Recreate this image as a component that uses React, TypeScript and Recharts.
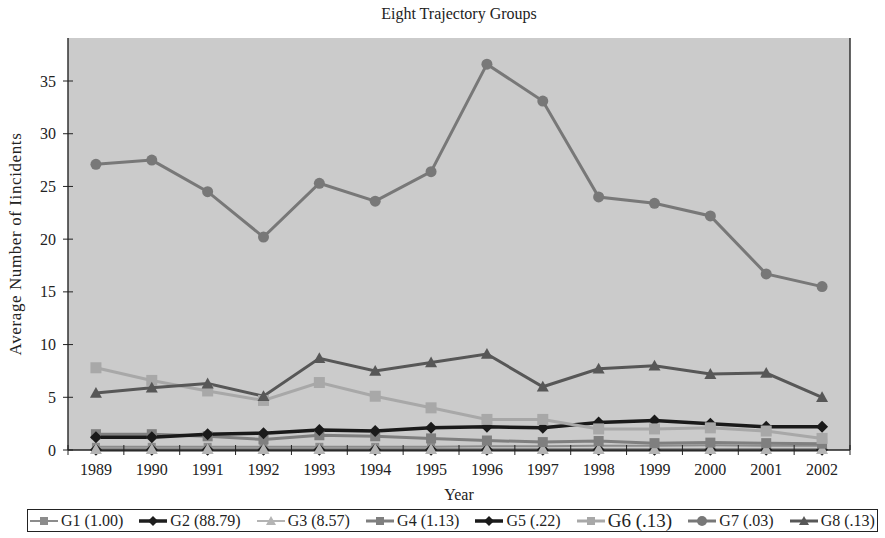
import React from 'react';
import { LineChart, Line, XAxis, YAxis, CartesianGrid, ReferenceLine } from 'recharts';

const years = ['1989','1990','1991','1992','1993','1994','1995','1996','1997','1998','1999','2000','2001','2002'];
const g1 = [0.3,0.3,0.3,0.3,0.3,0.3,0.3,0.35,0.35,0.4,0.4,0.45,0.4,0.4];
const g2 = [0.02,0.02,0.02,0.02,0.02,0.02,0.02,0.02,0.02,0.02,0.02,0.02,0.02,0.02];
const g3 = [0.08,0.08,0.08,0.08,0.08,0.08,0.08,0.08,0.08,0.08,0.08,0.08,0.08,0.08];
const g4 = [1.5,1.5,1.3,1.0,1.4,1.3,1.1,0.9,0.75,0.85,0.65,0.7,0.65,0.6];
const g5 = [1.2,1.2,1.5,1.6,1.9,1.8,2.1,2.2,2.1,2.6,2.8,2.5,2.2,2.2];
const g6 = [7.8,6.6,5.6,4.7,6.4,5.1,4.0,2.9,2.9,2.0,2.0,2.1,1.8,1.1];
const g7 = [27.1,27.5,24.5,20.2,25.3,23.6,26.4,36.6,33.1,24.0,23.4,22.2,16.7,15.5];
const g8 = [5.4,5.9,6.3,5.1,8.7,7.5,8.3,9.1,6.0,7.7,8.0,7.2,7.3,5.0];

const leftTicks = [0,5,10,15,20,25,30,35];
const rightTicks = [0,5,10,15,20,25,30,35,40,45];
const legendLabels = ['G1 (1.00)','G2 (88.79)','G3 (8.57)','G4 (1.13)','G5 (.22)','G6 (.13)','G7 (.03)','G8 (.13)'];

const data = years.map((y, i) => ({
  year: y, g1: g1[i], g2: g2[i], g3: g3[i], g4: g4[i], g5: g5[i], g6: g6[i], g7: g7[i], g8: g8[i],
}));

type Shape = 'square' | 'diamond' | 'triangle' | 'circle';

const Marker = ({ cx, cy, shape, size, fill }: { cx: number; cy: number; shape: Shape; size: number; fill: string }) => {
  const h = size / 2;
  if (shape === 'square') return <rect x={cx - h} y={cy - h} width={size} height={size} fill={fill} />;
  if (shape === 'diamond') return <polygon points={`${cx},${cy - h} ${cx + h},${cy} ${cx},${cy + h} ${cx - h},${cy}`} fill={fill} />;
  if (shape === 'triangle') return <polygon points={`${cx},${cy - h} ${cx + h},${cy + h * 0.8} ${cx - h},${cy + h * 0.8}`} fill={fill} />;
  return <circle cx={cx} cy={cy} r={h} fill={fill} />;
};

const series: { key: string; color: string; shape: Shape; size: number; width: number }[] = [
  { key: 'g1', color: '#8c8c8c', shape: 'square', size: 8, width: 2 },
  { key: 'g2', color: '#1e1e1e', shape: 'diamond', size: 12, width: 3.5 },
  { key: 'g3', color: '#b4b4b4', shape: 'triangle', size: 12, width: 2 },
  { key: 'g4', color: '#7f7f7f', shape: 'square', size: 10, width: 3 },
  { key: 'g5', color: '#1a1a1a', shape: 'diamond', size: 12, width: 3.5 },
  { key: 'g6', color: '#a8a8a8', shape: 'square', size: 11, width: 3 },
  { key: 'g7', color: '#787878', shape: 'circle', size: 11, width: 3 },
  { key: 'g8', color: '#575757', shape: 'triangle', size: 12, width: 3 },
];

const FONT = '"Liberation Serif", "DejaVu Serif", serif';
const BAND = (850 - 68) / 14;

const XTick = (props: any) => {
  const { x, payload, index } = props;
  return (
    <g>
      <line x1={x - BAND / 2} y1={445} x2={x - BAND / 2} y2={455} stroke="#222" strokeWidth={1} />
      {index === years.length - 1 && (
        <line x1={x + BAND / 2} y1={445} x2={x + BAND / 2} y2={455} stroke="#222" strokeWidth={1} />
      )}
      <text x={x} y={475} textAnchor="middle" fontFamily={FONT} fontSize={16} fill="#222">{payload.value}</text>
    </g>
  );
};

const LeftTick = (props: any) => {
  const { y, payload } = props;
  return (
    <g>
      <line x1={63} y1={y} x2={73} y2={y} stroke="#222" strokeWidth={1} />
      <text x={56} y={y + 5.5} textAnchor="end" fontFamily={FONT} fontSize={16} fill="#222">{payload.value}</text>
    </g>
  );
};

const RightTick = (props: any) => {
  const { y, payload } = props;
  return (
    <g>
      <line x1={845} y1={y} x2={855} y2={y} stroke="#222" strokeWidth={1} />
      <text x={857} y={y + 5.5} textAnchor="start" fontFamily={FONT} fontSize={16} fill="#222">{payload.value}</text>
    </g>
  );
};

const LegendIcon = ({ color, shape, width }: { color: string; shape: Shape; width: number }) => (
  <svg width={28} height={14} style={{ display: 'block' }}>
    <line x1={0} y1={7} x2={28} y2={7} stroke={color} strokeWidth={width} />
    <Marker cx={14} cy={7} shape={shape} size={shape === 'square' ? 8 : 10} fill={color} />
  </svg>
);

export default function App() {
  return (
    <div style={{ position: 'absolute', left: 0, top: 0, width: 885, height: 538, background: '#fff', fontFamily: FONT }}>
      <div style={{ position: 'absolute', left: 0, width: 918, top: 5, textAlign: 'center', fontSize: 16, color: '#222' }}>
        Eight Trajectory Groups
      </div>
      <LineChart width={885} height={538} data={data} margin={{ top: 38, right: 0, bottom: 0, left: 0 }}>
        <CartesianGrid horizontal={false} vertical={false} fill="#cbcbcb" yAxisId="left" />
        <XAxis
          dataKey="year"
          height={88}
          padding={{ left: BAND / 2, right: BAND / 2 }}
          tickLine={false}
          axisLine={{ stroke: '#222', strokeWidth: 1.5 }}
          tick={<XTick />}
          interval={0}
          label={{
            content: (p: any) => {
              const vb = p.viewBox;
              return (
                <text x={vb.x + vb.width / 2} y={vb.y + 50} textAnchor="middle" fontFamily={FONT} fontSize={16} fill="#222">
                  Year
                </text>
              );
            },
          }}
        />
        <YAxis
          yAxisId="left"
          width={68}
          domain={[0, 39.08]}
          ticks={leftTicks}
          tickLine={false}
          axisLine={{ stroke: '#333', strokeWidth: 1.5 }}
          tick={<LeftTick />}
          label={{
            content: (p: any) => {
              const vb = p.viewBox;
              const cx = 17;
              const cy = vb.y + vb.height / 2;
              return (
                <text x={cx} y={cy} transform={`rotate(-90 ${cx} ${cy})`} textAnchor="middle" dominantBaseline="middle" fontFamily={FONT} fontSize={17} letterSpacing={0.6} fill="#222">
                  Average Number of Iincidents
                </text>
              );
            },
          }}
        />
        <YAxis
          yAxisId="right"
          orientation="right"
          width={35}
          domain={[0, 45]}
          ticks={rightTicks}
          tickLine={false}
          axisLine={{ stroke: '#333', strokeWidth: 1.5 }}
          tick={<RightTick />}
        />
        <ReferenceLine yAxisId="right" y={45} stroke="#8a8a8a" strokeWidth={1.5} />
        {series.map((s) => (
          <Line
            key={s.key}
            yAxisId="left"
            dataKey={s.key}
            stroke={s.color}
            strokeWidth={s.width}
            isAnimationActive={false}
            dot={(p: any) => <Marker key={`${s.key}-${p.index}`} cx={p.cx} cy={p.cy} shape={s.shape} size={s.size} fill={s.color} />}
            activeDot={false}
          />
        ))}
      </LineChart>
      <div
        style={{
          position: 'absolute', left: 27, top: 509, width: 851, height: 23, boxSizing: 'border-box',
          border: '1px solid #222', display: 'flex', alignItems: 'center', justifyContent: 'space-between',
          padding: '0 2px', fontSize: 16, color: '#222', whiteSpace: 'nowrap',
        }}
      >
        {series.map((s, i) => (
          <div key={s.key} style={{ display: 'flex', alignItems: 'center', gap: 3 }}>
            <LegendIcon color={s.color} shape={s.shape} width={s.width} />
            <span style={{ fontSize: i === 5 ? 19 : 16 }}>{legendLabels[i]}</span>
          </div>
        ))}
      </div>
    </div>
  );
}
